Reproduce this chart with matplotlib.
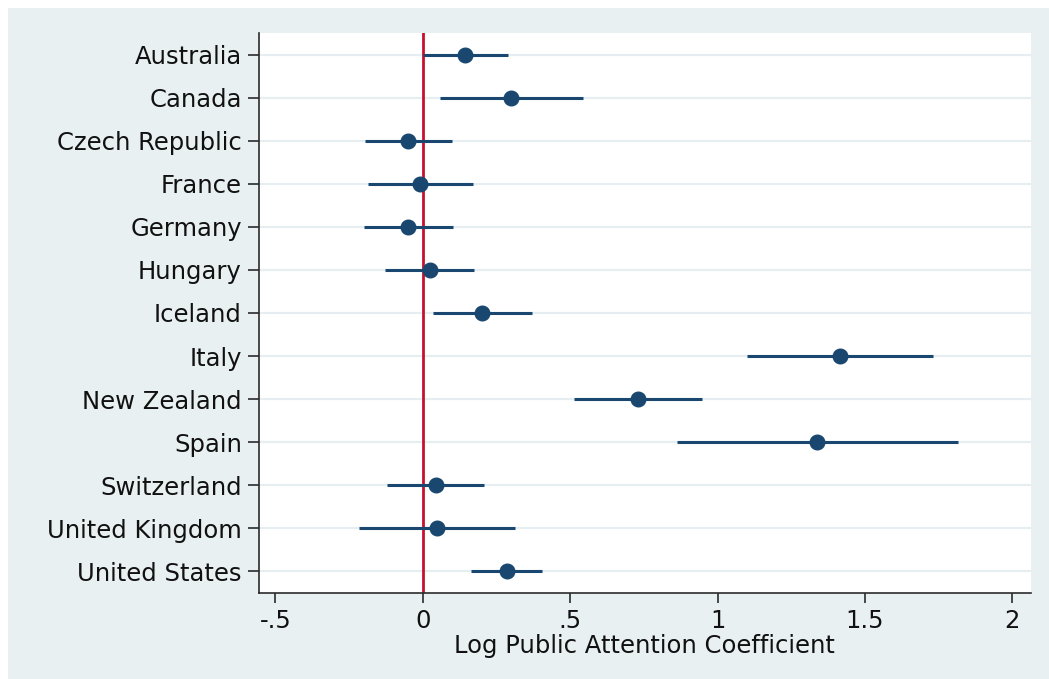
import matplotlib
matplotlib.use("Agg")
import matplotlib.pyplot as plt
from matplotlib.patches import Rectangle

# Country estimates with 95% confidence bounds
countries = ["Australia", "Canada", "Czech Republic", "France", "Germany",
             "Hungary", "Iceland", "Italy", "New Zealand", "Spain",
             "Switzerland", "United Kingdom", "United States"]
coef = [0.144, 0.300, -0.049, -0.008, -0.050, 0.023, 0.201,
        1.416, 0.730, 1.338, 0.045, 0.047, 0.285]
ci_low = [0.002, 0.059, -0.196, -0.185, -0.200, -0.128, 0.034,
          1.100, 0.513, 0.861, -0.120, -0.217, 0.165]
ci_high = [0.290, 0.544, 0.100, 0.171, 0.101, 0.175, 0.370,
           1.732, 0.948, 1.816, 0.209, 0.312, 0.403]

xticks = [-0.5, 0, 0.5, 1, 1.5, 2]
xticklabels = ["-.5", "0", ".5", "1", "1.5", "2"]

navy = "#1a476f"
bg = "#e9f0f2"
grid = "#e6eef2"
axis_col = "#2b2b2b"

plt.rcParams["font.family"] = ["DejaVu Sans"]

W, H = 1049, 679
fig = plt.figure(figsize=(W / 100, H / 100), dpi=100)
fig.patch.set_facecolor("white")
fig.patches.append(Rectangle((8 / W, 0), 1 - 8 / W, 1 - 8 / H,
                             transform=fig.transFigure, facecolor=bg,
                             edgecolor="none", zorder=-10))

ax = fig.add_axes([258.5 / W, 1 - 593 / H, (1031 - 258.5) / W, (593 - 33) / H])
ax.set_zorder(5)
ax.set_facecolor("white")

ypos = list(range(1, len(countries) + 1))
for y in ypos:
    ax.axhline(y, color=grid, lw=1.6, zorder=1)

ax.axvline(0, color="#c8102e", lw=2.0, zorder=2)
ax.hlines(ypos, ci_low, ci_high, color=navy, lw=2.2, zorder=3)
ax.plot(coef, ypos, "o", color=navy, markersize=10.5, zorder=4, linestyle="none")

ax.set_ylim(len(countries) + 0.5, 0.5)
ax.set_xlim(-0.557, 2.063)
ax.set_yticks(ypos)
ax.set_yticklabels(countries)
ax.set_xticks(xticks)
ax.set_xticklabels(xticklabels)

for side in ("top", "right"):
    ax.spines[side].set_visible(False)
for side in ("left", "bottom"):
    ax.spines[side].set_color(axis_col)
    ax.spines[side].set_linewidth(1.2)

fs = 17.5
ax.tick_params(axis="y", length=8, width=1.2, color=axis_col, pad=4,
               labelsize=fs, labelcolor="#111111")
ax.tick_params(axis="x", length=7.5, width=1.2, color=axis_col, pad=4,
               labelsize=fs, labelcolor="#111111")
ax.set_xlabel("Log Public Attention Coefficient", fontsize=fs,
              color="#111111", labelpad=1)

fig.savefig("out.png", dpi=100, facecolor=fig.get_facecolor())
